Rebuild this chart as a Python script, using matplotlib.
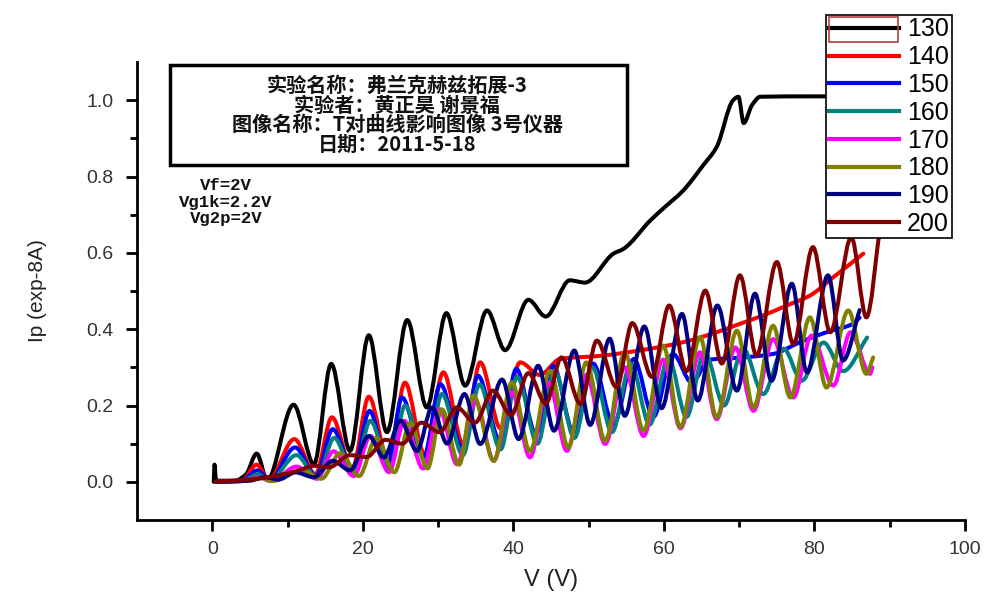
import numpy as np
import matplotlib
matplotlib.use("Agg")
import matplotlib.pyplot as plt
from matplotlib.patches import Rectangle, PathPatch
from matplotlib.path import Path
from matplotlib.lines import Line2D

plt.rcParams["font.family"] = ["Liberation Sans", "DejaVu Sans"]

# Franck-Hertz curves, one per temperature (peaks and valleys)
temps = ["130", "140", "150", "160", "170", "180", "190", "200"]
colors = ["#000000", "#ff0000", "#0000ff", "#008080",
          "#ff00ff", "#808000", "#000080", "#800000"]

V130 = [0.2, 0.3, 0.5, 3.0, 4.5, 5.9, 7.3, 10.8, 13.5, 15.8, 18.3, 20.8, 23.2, 25.9, 28.5,
        31.1, 33.6, 36.5, 38.9, 42.0, 44.3, 47.5, 49.5, 53.3, 54.6, 58.2, 59.9, 62.6, 65.2,
        67.0, 69.2, 69.9, 70.6, 71.7, 72.8, 80.0, 87.0]
I130 = [0.0, 0.045, 0.003, 0.003, 0.02, 0.074, 0.005, 0.202, 0.046, 0.309, 0.081, 0.384, 0.130,
        0.424, 0.195, 0.442, 0.252, 0.449, 0.345, 0.477, 0.433, 0.528, 0.522, 0.598, 0.610,
        0.685, 0.716, 0.764, 0.829, 0.877, 1.000, 1.009, 0.940, 0.987, 1.009, 1.010, 1.010]

V140 = [0.5, 4.0, 5.9, 7.5, 10.9, 13.7, 15.9, 18.6, 20.8, 23.4, 25.6, 28.2, 30.7, 33.3, 35.6,
        38.3, 40.9, 43.5, 46.2, 51.5, 57.0, 62.6, 67.0, 70.1, 73.7, 76.3, 79.4, 82.5, 86.5]
I140 = [0.0, 0.005, 0.045, 0.005, 0.112, 0.020, 0.169, 0.035, 0.223, 0.055, 0.260, 0.073, 0.287,
        0.100, 0.313, 0.140, 0.313, 0.280, 0.322, 0.330, 0.345, 0.366, 0.392, 0.414, 0.440,
        0.462, 0.488, 0.536, 0.598]

V150 = [0.5, 4.0, 6.0, 7.6, 11.0, 13.8, 16.0, 18.7, 20.9, 23.3, 25.2, 28.1, 30.3, 33.2, 35.3,
        38.2, 40.4, 43.0, 45.3, 48.0, 50.6, 53.3, 56.0, 58.6, 61.2, 63.7, 66.0, 70.0, 74.5,
        78.1, 81.6, 85.1, 86.0]
I150 = [0.0, 0.004, 0.03, 0.004, 0.090, 0.015, 0.138, 0.030, 0.186, 0.045, 0.221, 0.065, 0.256,
        0.090, 0.278, 0.110, 0.296, 0.125, 0.304, 0.130, 0.310, 0.150, 0.322, 0.170, 0.335,
        0.260, 0.320, 0.325, 0.335, 0.366, 0.392, 0.414, 0.430]

V160 = [0.5, 4.0, 6.1, 7.6, 11.2, 13.9, 16.2, 18.8, 21.0, 23.6, 25.6, 28.4, 30.5, 33.3, 35.5,
        38.3, 40.5, 43.2, 45.5, 48.1, 50.5, 53.1, 55.6, 58.1, 60.6, 63.0, 65.4, 68.0, 70.5,
        73.2, 75.9, 78.3, 81.2, 83.8, 87.0]
I160 = [0.0, 0.003, 0.02, 0.003, 0.070, 0.010, 0.115, 0.020, 0.160, 0.035, 0.200, 0.050, 0.230,
        0.070, 0.255, 0.085, 0.275, 0.100, 0.290, 0.115, 0.300, 0.130, 0.310, 0.150, 0.325,
        0.170, 0.340, 0.200, 0.350, 0.230, 0.349, 0.265, 0.365, 0.290, 0.378]

V170 = [0.5, 4.0, 6.2, 7.8, 11.2, 13.9, 16.1, 18.8, 21.0, 23.5, 25.5, 28.0, 30.2, 32.5, 35.0,
        37.4, 39.8, 42.2, 44.7, 47.1, 49.7, 52.2, 54.8, 57.3, 59.9, 62.2, 64.8, 67.0, 69.5,
        71.9, 74.5, 77.2, 79.6, 82.5, 84.8, 87.4, 87.7]
I170 = [0.0, 0.002, 0.012, 0.002, 0.040, 0.008, 0.080, 0.015, 0.120, 0.025, 0.160, 0.035, 0.190,
        0.046, 0.210, 0.055, 0.235, 0.064, 0.260, 0.081, 0.280, 0.099, 0.300, 0.120, 0.320,
        0.140, 0.339, 0.164, 0.352, 0.186, 0.374, 0.221, 0.383, 0.252, 0.392, 0.283, 0.300]

V180 = [0.5, 4.0, 6.5, 8.0, 12.0, 14.5, 17.0, 19.5, 21.8, 24.2, 26.3, 28.6, 30.5, 32.8, 34.7,
        37.4, 39.8, 42.2, 44.9, 47.3, 49.7, 52.2, 54.8, 57.3, 59.9, 62.2, 64.8, 67.0, 69.7,
        71.9, 74.5, 76.8, 79.4, 81.6, 84.5, 86.9, 87.8]
I180 = [0.0, 0.002, 0.010, 0.002, 0.030, 0.008, 0.075, 0.015, 0.115, 0.025, 0.155, 0.035, 0.190,
        0.045, 0.226, 0.055, 0.261, 0.081, 0.291, 0.090, 0.313, 0.108, 0.339, 0.134, 0.357,
        0.143, 0.379, 0.169, 0.396, 0.195, 0.409, 0.221, 0.431, 0.247, 0.449, 0.283, 0.326]

V190 = [0.5, 5.0, 7.0, 8.8, 11.0, 13.5, 16.0, 18.3, 20.8, 22.8, 25.0, 27.2, 29.2, 31.2, 33.5,
        35.6, 38.5, 40.7, 43.3, 45.4, 48.1, 50.2, 52.8, 54.8, 57.4, 59.7, 62.4, 64.5, 67.1,
        69.7, 72.1, 74.3, 77.0, 79.0, 81.8, 83.8, 86.0]
I190 = [0.0, 0.003, 0.012, 0.006, 0.025, 0.012, 0.055, 0.030, 0.120, 0.064, 0.160, 0.081, 0.195,
        0.100, 0.230, 0.099, 0.268, 0.112, 0.304, 0.134, 0.344, 0.149, 0.375, 0.173, 0.407,
        0.193, 0.440, 0.213, 0.462, 0.239, 0.493, 0.265, 0.519, 0.287, 0.541, 0.318, 0.450]

V200 = [0.5, 3.0, 6.0, 9.0, 11.5, 13.5, 15.5, 18.3, 20.5, 23.0, 25.2, 27.8, 30.2, 32.5, 34.9,
        37.3, 39.7, 42.0, 44.3, 46.4, 48.9, 51.1, 53.7, 55.8, 58.4, 60.7, 63.0, 65.5, 67.7,
        70.1, 72.3, 75.0, 77.2, 79.8, 82.1, 84.9, 86.9, 88.8]
I200 = [0.0, 0.003, 0.008, 0.018, 0.030, 0.042, 0.038, 0.070, 0.065, 0.110, 0.100, 0.155, 0.130,
        0.195, 0.155, 0.239, 0.175, 0.285, 0.205, 0.326, 0.204, 0.370, 0.248, 0.416, 0.275,
        0.462, 0.290, 0.501, 0.310, 0.541, 0.331, 0.576, 0.361, 0.615, 0.392, 0.641, 0.431, 0.680]

volts = [V130, V140, V150, V160, V170, V180, V190, V200]
currents = [I130, I140, I150, I160, I170, I180, I190, I200]

title_lines = ["实验名称：弗兰克赫兹拓展-3", "实验者：黄正昊 谢景福",
               "图像名称：T对曲线影响图像 3号仪器", "日期：2011-5-18"]
cond_lines = ["Vf=2V", "Vg1k=2.2V", "Vg2p=2V"]


def smooth_path(x, y):
    # monotone cubic (pchip-style) bezier through the read points,
    # like Origin's spline line connection
    x = np.asarray(x, float)
    y = np.asarray(y, float)
    h = np.diff(x)
    delta = np.diff(y) / h
    d = np.zeros_like(y)
    for k in range(1, len(x) - 1):
        if delta[k - 1] * delta[k] > 0:
            w1 = 2 * h[k] + h[k - 1]
            w2 = h[k] + 2 * h[k - 1]
            d[k] = (w1 + w2) / (w1 / delta[k - 1] + w2 / delta[k])
    d[0] = delta[0]
    d[-1] = delta[-1]
    verts = [(x[0], y[0])]
    codes = [Path.MOVETO]
    for k in range(len(x) - 1):
        verts += [(x[k] + h[k] / 3, y[k] + d[k] * h[k] / 3),
                  (x[k + 1] - h[k] / 3, y[k + 1] - d[k + 1] * h[k] / 3),
                  (x[k + 1], y[k + 1])]
        codes += [Path.CURVE4] * 3
    return Path(verts, codes)


W, H = 994, 593
fig = plt.figure(figsize=(W / 100, H / 100), dpi=100)
ax = fig.add_axes([137 / W, 1 - 520 / H, (965 - 137) / W, (520 - 62) / H])


def fx(px):
    return px / W


def fy(py):
    return 1 - py / H


handles = []
for v, i, c, t in zip(volts, currents, colors, temps):
    ax.add_patch(PathPatch(smooth_path(v, i), fill=False, edgecolor=c, lw=2.9,
                           capstyle="round", joinstyle="round"))
    handles.append(Line2D([], [], color=c, lw=3, label=t))

ax.set_xlim(-10, 100)
ax.set_ylim(-0.1, 1.1)
ax.set_xticks([0, 20, 40, 60, 80, 100])
ax.set_xticks([10, 30, 50, 70, 90], minor=True)
ax.set_yticks([0.0, 0.2, 0.4, 0.6, 0.8, 1.0])
ax.set_yticks([0.1, 0.3, 0.5, 0.7, 0.9], minor=True)
ax.set_yticklabels(["0.0", "0.2", "0.4", "0.6", "0.8", "1.0"])
ax.spines["top"].set_visible(False)
ax.spines["right"].set_visible(False)
for s in ["left", "bottom"]:
    ax.spines[s].set_linewidth(2)
ax.tick_params(which="major", direction="out", length=8, width=2,
               labelsize=14, labelcolor="#333333")
ax.tick_params(axis="y", which="major", pad=9)
ax.tick_params(axis="x", which="major", pad=7)
ax.tick_params(which="minor", direction="out", length=5, width=2)

ax.set_xlabel("V (V)", fontsize=17, color="#222222", labelpad=8)
ax.set_ylabel("Ip (exp-8A)", fontsize=15, color="#222222", labelpad=28)

# legend box sticking out above the axes, like the Origin export
leg = fig.legend(handles=handles, loc="upper left", bbox_to_anchor=(fx(826), fy(15)),
                 prop={"size": 18}, frameon=True,
                 fancybox=False, edgecolor="black", framealpha=1,
                 handlelength=2.8, handletextpad=0.35, labelspacing=0.15,
                 borderpad=0.1, borderaxespad=0)
leg.get_frame().set_linewidth(1.2)
fig.patches.append(Rectangle((fx(829), fy(42)), (898 - 829) / W, 25 / H,
                             transform=fig.transFigure, fill=False,
                             edgecolor="#b04040", lw=1.2, zorder=10))

# info box
fig.patches.append(Rectangle((fx(170), fy(165)), (627 - 170) / W, 100 / H,
                             transform=fig.transFigure, fill=False,
                             edgecolor="black", lw=2.5, zorder=3))
fig.text(fx(397), fy(115), "\n".join(title_lines), ha="center", va="center",
         multialignment="center", linespacing=0.92,
         fontsize=14.5, fontweight="bold",
         family=["Noto Sans CJK SC", "DejaVu Sans"], color="#111111")

fig.text(fx(226), fy(202), "\n".join(cond_lines), ha="center", va="center",
         multialignment="center", linespacing=1.12,
         fontsize=12.5, fontweight="bold", family="Liberation Mono", color="#111111")

fig.savefig("out.png", dpi=100)
